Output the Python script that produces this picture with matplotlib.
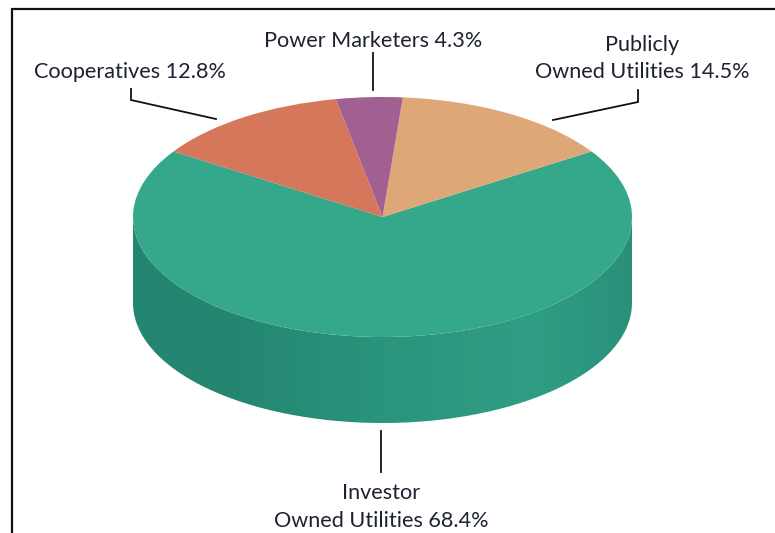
#!/usr/bin/env python
"""3D-look pie of utility shares: pie top squashed to an ellipse, side wall is a clipped gradient."""
import matplotlib

matplotlib.use("Agg")
import matplotlib.pyplot as plt
import numpy as np
from matplotlib.colors import LinearSegmentedColormap
from matplotlib.path import Path
from matplotlib.patches import PathPatch

shares = [68.4, 14.5, 4.3, 12.8]
names = ["Investor Owned Utilities", "Publicly Owned Utilities", "Power Marketers", "Cooperatives"]
colors = ["#35a78b", "#dea777", "#a25f92", "#d4775a"]

W, H = 775, 533
CX, CY, RX, RY, DEPTH = 382.5, 217, 249.5, 120, 86
plt.rcParams["font.family"] = ["Lato", "DejaVu Sans"]

fig = plt.figure(figsize=(W / 100, H / 100), dpi=100)
ax = fig.add_axes([0, 0, 1, 1])
ax.set_xlim(0, W)
ax.set_ylim(H, 0)
ax.axis("off")

# side wall, lower half of the ellipse swept down by DEPTH
t = np.linspace(0, np.pi, 200)
x = CX + RX * np.cos(t)
y = CY + RY * np.sin(t)
wall = np.column_stack([np.r_[x, x[::-1]], np.r_[y + DEPTH, y[::-1]]])
clip = PathPatch(Path(wall), fc="none", ec="none", transform=ax.transData)
ax.add_patch(clip)
wall_cmap = LinearSegmentedColormap.from_list(
    "wall", [(0, "#248671"), (0.2, "#248671"), (0.5, "#2a947c"), (0.8, "#2f9e84"), (1, "#2b907a")]
)
img = ax.imshow(
    np.linspace(0, 1, 256)[None, :], cmap=wall_cmap, aspect="auto",
    extent=(CX - RX, CX + RX, CY + RY + DEPTH, CY), zorder=1,
)
img.set_clip_path(clip)

# squash the unit pie with a transform so the slices come straight from the shares
start = -(270 - shares[0] * 3.6 / 2)
wedges, _ = ax.pie(
    shares, colors=colors, startangle=start, counterclock=False, radius=1,
    center=(0, 0), frame=False, wedgeprops={"linewidth": 0},
)
squash = matplotlib.transforms.Affine2D().scale(RX, RY).translate(CX, CY) + ax.transData
for w in wedges:
    w.set_transform(squash)
    w.set_zorder(2)
ax.set_aspect("auto")
ax.set_xlim(0, W)
ax.set_ylim(H, 0)
ax.axis("off")

# frame, open on the right and at the bottom
ax.plot([12, 12, W], [H, 9, 9], color="#111111", lw=1.6, solid_joinstyle="miter", zorder=3)

# leader lines
leaders = [
    ([131, 131, 216], [89, 100, 119]),
    ([373, 373], [53, 90]),
    ([638, 638, 553], [90, 102, 120]),
    ([381, 381], [431, 472]),
]
for lx, ly in leaders:
    ax.plot(lx, ly, color="#111111", lw=1.3, solid_joinstyle="miter", zorder=3)

labels = [
    (130, 72.5, "Cooperatives 12.8%"),
    (373, 41, "Power Marketers 4.3%"),
    (642, 58.5, "Publicly\nOwned Utilities 14.5%"),
    (381, 507, "Investor\nOwned Utilities 68.4%"),
]
for lx, ly, s in labels:
    ax.text(lx, ly, s, ha="center", va="center", fontsize=15.6, color="#1c2230",
            linespacing=1.45, zorder=4)

fig.savefig("out.png", dpi=100)
